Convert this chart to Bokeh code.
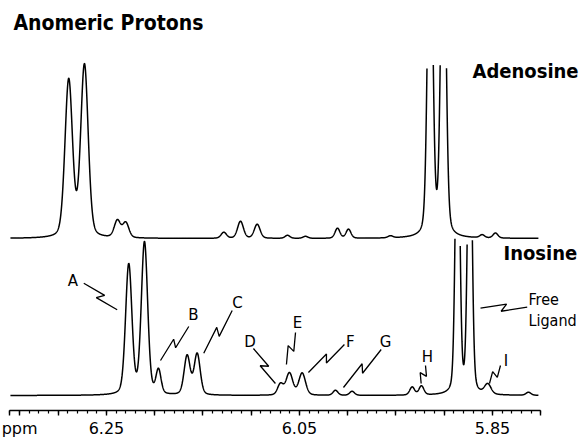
import numpy as np
from bokeh.plotting import figure
from bokeh.models import Range1d, FixedTicker
from bokeh.core.properties import value
from bokeh.embed import file_html
from bokeh.resources import INLINE

# ---------------- data ----------------
# axis ticks (ppm); the unit "ppm" is written at the left end of the scale
major_ticks = [6.34, 6.35, 6.30, 6.25, 6.20, 6.15, 6.10, 6.05, 6.00, 5.95, 5.90, 5.85, 5.80]
minor_ticks = [round(6.35 - 0.01 * i, 2) for i in range(56)]
tick_labels = {6.34: "ppm", 6.25: "6.25", 6.05: "6.05", 5.85: "5.85"}

# spectral window (ppm)
spec_start, spec_end = 6.3495, 5.8024

# Adenosine trace: peak positions (ppm), heights, half-widths (ppm)
adenosine_ppm = [6.2891, 6.2728, 6.2387, 6.2300, 6.1284, 6.1111, 6.0938, 6.0624,
                 6.0438, 6.0106, 5.9992, 5.9557, 5.9146, 5.9009, 5.8607, 5.8469]
adenosine_height = [157, 172, 17, 15, 6, 17, 14, 3, 2, 10, 9, 2, 360, 360, 3, 5]
adenosine_width = [0.0046, 0.0046, 0.0038, 0.0038, 0.0033, 0.0036, 0.0036, 0.003,
                   0.003, 0.003, 0.003, 0.003, 0.0031, 0.0031, 0.003, 0.003]
adenosine_offset = 157
adenosine_clip = 337

# Inosine trace
inosine_ppm = [6.2269, 6.2106, 6.1961, 6.1664, 6.1560, 6.0697, 6.0604, 6.0472,
               6.0127, 5.9955, 5.9332, 5.9236, 5.8862, 5.8735, 5.8549, 5.8127]
inosine_height = [130, 152, 24, 39, 41, 11, 22, 22, 5, 4, 8, 9, 320, 320, 10, 3]
inosine_width = [0.0039, 0.0039, 0.0031, 0.0037, 0.0037, 0.0035, 0.0041, 0.0041,
                 0.003, 0.003, 0.003, 0.003, 0.0026, 0.0026, 0.004, 0.003]
inosine_offset = 0
inosine_clip = 161

# peak labels and their leader lines
label_text = ["A", "B", "C", "D", "E", "F", "G", "H", "I"]
label_ppm = [6.2847, 6.1598, 6.1142, 6.1013, 6.0521, 5.9972, 5.9609, 5.9174, 5.8360]
label_y = [115, 80.5, 93, 54, 73, 53.5, 54, 38.5, 35]

leader_start_ppm = [6.2735, 6.1647, 6.1197, 6.0977, 6.0541, 6.0034, 5.9653, 5.9194, 5.8417, 5.8140]
leader_start_y = [112.3, 69, 85, 47, 63, 51, 46, 30, 30, 88.3]
leader_end_ppm = [6.2389, 6.1940, 6.1492, 6.0749, 6.0635, 6.0407, 6.0044, 5.9239, 5.8531, 5.8624]
leader_end_y = [85.7, 35, 42.3, 12, 31, 23, 8, 12, 12, 87.3]

# ---------------- helpers ----------------
def pseudo_voigt(x, pos, h, w, eta=0.25):
    y = np.zeros_like(x)
    for p, hh, ww in zip(pos, h, w):
        d2 = ((x - p) / ww) ** 2
        y += hh * ((1 - eta) * np.exp(-np.log(2) * d2) + eta / (1 + d2))
    return y

x = np.linspace(spec_start, spec_end, 3000)
ya = pseudo_voigt(x, adenosine_ppm, adenosine_height, adenosine_width) + adenosine_offset
ya[ya > adenosine_clip] = np.nan
yi = pseudo_voigt(x, inosine_ppm, inosine_height, inosine_width) + inosine_offset
yi[yi > inosine_clip] = np.nan

PXPPM = 965.0
def zig(s_ppm, s_y, e_ppm, e_y, d=3.5):
    S = np.array([-s_ppm * PXPPM, s_y])
    E = np.array([-e_ppm * PXPPM, e_y])
    v = E - S
    L = np.hypot(*v)
    u = v / L
    n = np.array([-u[1], u[0]])
    P1 = S + 0.56 * v + n * d
    P2 = S + 0.44 * v - n * d
    pts = [S, P1, P2, E]
    return [-p[0] / PXPPM for p in pts], [p[1] for p in pts]

# ---------------- figure ----------------
p = figure(frame_width=585, frame_height=410,
           x_range=Range1d(6.3598, 5.7536), y_range=Range1d(-15, 395),
           output_backend="svg", toolbar_location=None,
           y_axis_location=None, min_border=0)
p.min_border_bottom = 29
p.grid.visible = False
p.outline_line_color = None
p.background_fill_color = "white"
p.border_fill_color = "white"

ax = p.xaxis[0]
ax.ticker = FixedTicker(ticks=major_ticks, minor_ticks=minor_ticks)
ax.major_label_overrides = {t: tick_labels.get(t, "") for t in major_ticks}
ax.bounds = (5.80, 6.35)
ax.axis_line_width = 1.6
ax.axis_line_color = "black"
ax.major_tick_line_width = 1.4
ax.minor_tick_line_width = 1.2
ax.major_tick_in = 0
ax.major_tick_out = 5
ax.minor_tick_in = 0
ax.minor_tick_out = 3
ax.major_label_standoff = 3
ax.major_label_text_font = "DejaVu Sans"
ax.major_label_text_font_size = "16px"
ax.major_label_text_color = "black"

p.line(x, ya, line_color="black", line_width=1.5)
p.line(x, yi, line_color="black", line_width=1.5)

for sp, sy, ep, ey in zip(leader_start_ppm, leader_start_y, leader_end_ppm, leader_end_y):
    lx, ly = zig(sp, sy, ep, ey)
    p.line(lx, ly, line_color="black", line_width=1.3)

p.text(x=label_ppm, y=label_y, text=label_text, text_font=value("DejaVu Sans"),
       text_font_size="15px", text_align="center", text_baseline="middle", text_color="black")

p.text(x=[6.3464], y=[373], text=["Anomeric Protons"], text_font=value("DejaVu Sans Condensed"),
       text_font_size="21px", text_font_style="bold", text_baseline="middle", text_color="black")
p.text(x=[5.8707, 5.8386], y=[325, 143], text=["Adenosine", "Inosine"],
       text_font=value("DejaVu Sans Condensed"), text_font_size="20px", text_font_style="bold",
       text_baseline="middle", text_color="black")
p.text(x=[5.8127, 5.8127], y=[96, 75], text=["Free", "Ligand"],
       text_font=value("DejaVu Sans Condensed"), text_font_size="16px",
       text_baseline="middle", text_color="black")

open("out.html", "w").write(file_html(p, INLINE))
